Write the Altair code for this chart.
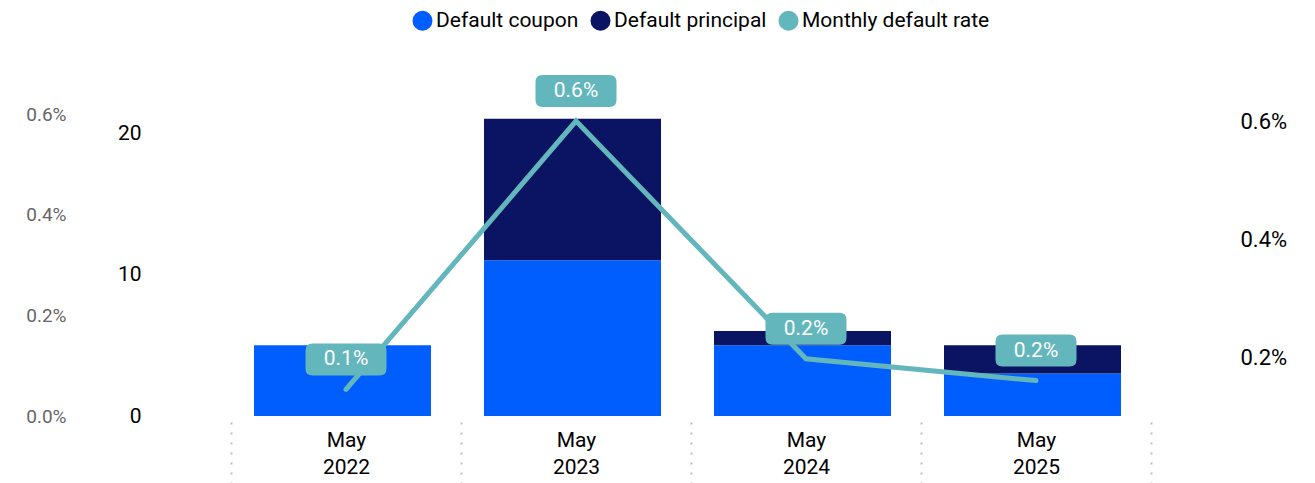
import altair as alt
import pandas as pd

months = ["May 2022", "May 2023", "May 2024", "May 2025"]
coupon = [5, 11, 5, 3]
principal = [0, 10, 1, 2]
rate = [0.00145, 0.006, 0.00197, 0.0016]
series_names = ["Default coupon", "Default principal", "Monthly default rate"]
series_colors = ["#005EFF", "#0A1463", "#62B6BC"]

TEAL = "#62B6BC"
H = 320
W = 920

bar_rows = []
for m, c, p in zip(months, coupon, principal):
    bar_rows.append({"month": m, "series": series_names[0], "value": c, "ord": 0})
    bar_rows.append({"month": m, "series": series_names[1], "value": p, "ord": 1})
bar_df = pd.DataFrame(bar_rows)
line_df = pd.DataFrame({"month": months, "rate": rate})

x_enc = alt.X(
    "month:N",
    sort=months,
    title=None,
    scale=alt.Scale(paddingInner=0, paddingOuter=0),
    axis=alt.Axis(
        domain=False,
        ticks=True,
        tickBand="extent",
        tickDash=[2, 8],
        tickColor="#bdbdbd",
        tickWidth=2,
        tickSize=70,
        offset=6,
        labelPadding=-63,
        labelAngle=0,
        labelFontSize=21,
        labelColor="#000000",
        labelLineHeight=27,
        labelExpr="split(datum.label, ' ')",
        grid=False,
    ),
)

bars = alt.Chart(bar_df).mark_bar(width=177, xOffset=-3.5).encode(
    x=x_enc,
    y=alt.Y(
        "value:Q",
        stack="zero",
        title=None,
        scale=alt.Scale(domain=[0, H / 14.15], nice=False),
        axis=alt.Axis(
            orient="left", values=[0, 10, 20], offset=88, labelPadding=2,
            ticks=False, domain=False, grid=False, labelFontSize=21,
            labelColor="#000000",
        ),
    ),
    color=alt.Color(
        "series:N",
        scale=alt.Scale(domain=series_names, range=series_colors),
        legend=alt.Legend(
            title=None, orient="none", direction="horizontal",
            legendX=181, legendY=-86, symbolType="circle", symbolSize=400,
            symbolStrokeWidth=0, labelFontSize=21, labelColor="#000000",
            columnPadding=11, labelOffset=3, labelLimit=400,
        ),
    ),
    order=alt.Order("ord:Q"),
)

rate_scale = alt.Scale(domain=[0.001, 0.001 + H / 59000], nice=False, zero=False)

line = alt.Chart(line_df).mark_line(color=TEAL, strokeWidth=5, strokeCap="round", strokeJoin="miter").encode(
    x=x_enc,
    y=alt.Y(
        "rate:Q", title=None, scale=rate_scale,
        axis=alt.Axis(
            orient="right", values=[0.002, 0.004, 0.006], format=".1%",
            offset=87, labelPadding=2, ticks=False, domain=False, grid=False,
            labelFontSize=22, labelColor="#000000",
        ),
    ),
)

box_path = ("M-0.827,-0.395 L0.827,-0.395 Q1,-0.395 1,-0.222 L1,0.222 "
            "Q1,0.395 0.827,0.395 L-0.827,0.395 Q-1,0.395 -1,0.222 "
            "L-1,-0.222 Q-1,-0.395 -0.827,-0.395 Z")

boxes = alt.Chart(line_df).mark_point(
    shape=box_path, size=6561, filled=True, opacity=1, color=TEAL,
    strokeWidth=0, yOffset=-30,
).encode(
    x=x_enc,
    y=alt.Y("rate:Q", scale=rate_scale, axis=None),
)

labels = alt.Chart(line_df).mark_text(
    color="#ffffff", fontSize=21, baseline="middle", align="center", yOffset=-30,
).encode(
    x=x_enc,
    y=alt.Y("rate:Q", scale=rate_scale, axis=None),
    text=alt.Text("rate:Q", format=".1%"),
)

grey = alt.Chart(line_df).mark_point(opacity=0).encode(
    x=x_enc,
    y=alt.Y(
        "rate:Q", title=None,
        scale=alt.Scale(domain=[0, H / 50333], nice=False),
        axis=alt.Axis(
            orient="left", values=[0, 0.002, 0.004, 0.006], format=".1%",
            offset=163, labelPadding=2, ticks=False, domain=False, grid=False,
            labelFontSize=19, labelColor="#666666",
        ),
    ),
)

chart = (
    alt.layer(bars, line, boxes, labels, grey)
    .resolve_scale(y="independent")
    .properties(
        width=W, height=H,
        autosize=alt.AutoSizeParams(type="none"),
        padding={"left": 223, "top": 88, "right": 150, "bottom": 67},
    )
    .configure(font="Roboto")
    .configure_view(stroke=None)
)

chart.save("out.html", embed_options={"renderer": "svg", "actions": False})
